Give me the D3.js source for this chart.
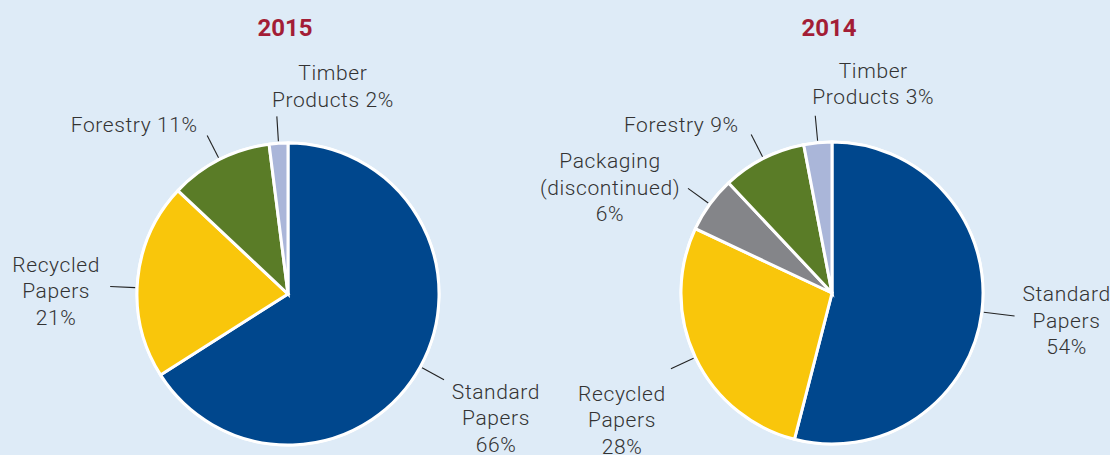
<!DOCTYPE html>
<html>
<head>
<meta charset="utf-8">
<script src="https://cdn.jsdelivr.net/npm/d3@7"></script>
<style>
  html, body { margin: 0; padding: 0; background: #deebf7; }
  svg { display: block; }
  .lbl { font-family: Roboto, "Liberation Sans", sans-serif; font-weight: 300; font-size: 21px; fill: #333; letter-spacing: 0.6px; }
  .ttl { font-family: Roboto, "Liberation Sans", sans-serif; font-weight: 700; font-size: 24px; fill: #a31d36; }
</style>
</head>
<body>
<svg id="chart" width="1110" height="455"></svg>
<script>
// ---- data ----
const years = ["2015", "2014"];
const categories2015 = ["Standard Papers", "Recycled Papers", "Forestry", "Timber Products"];
const values2015 = [66, 21, 11, 2];
const labels2015 = [["Standard", "Papers", "66%"], ["Recycled", "Papers", "21%"], ["Forestry 11%"], ["Timber", "Products 2%"]];
const categories2014 = ["Standard Papers", "Recycled Papers", "Packaging (discontinued)", "Forestry", "Timber Products"];
const values2014 = [54, 28, 6, 9, 3];
const labels2014 = [["Standard", "Papers", "54%"], ["Recycled", "Papers", "28%"], ["Packaging", "(discontinued)", "6%"], ["Forestry 9%"], ["Timber", "Products 3%"]];

// ---- styling / layout ----
const colorScale = d3.scaleOrdinal()
  .domain(["Standard Papers", "Recycled Papers", "Packaging (discontinued)", "Forestry", "Timber Products"])
  .range(["#00478d", "#f9c60b", "#848589", "#5a7c27", "#aab6d9"]);

const pies = [
  { cx: 288, cy: 294, r: 151, cats: categories2015, vals: values2015, labels: labels2015, title: years[0],
    // text offsets (dx, dy of first baseline) relative to leader end; leader length beyond radius; angle nudge (deg)
    offsets: [[52, 19, 27, 0], [-54, -15, 27, -3], [-73, -3, 27, 0], [56, -36, 27, 0]] },
  { cx: 832, cy: 293, r: 151, cats: categories2014, vals: values2014, labels: labels2014, title: years[1],
    offsets: [[52, -15, 33, 0], [-49, 32, 27, 0], [-78, -20, 27, 0], [-70, -2, 27, 0], [58, -38, 27, 0]] }
];
const lineH = 26.5;

const svg = d3.select("#chart");

pies.forEach(p => {
  const g = svg.append("g").attr("transform", `translate(${p.cx},${p.cy})`);
  const data = p.cats.map((c, i) => ({ cat: c, value: p.vals[i], label: p.labels[i], off: p.offsets[i] }));
  const arcs = d3.pie().sort(null).value(d => d.value)(data);
  const arc = d3.arc().innerRadius(0).outerRadius(p.r);

  g.append("circle").attr("r", p.r + 1.5).attr("fill", "#fff");

  g.selectAll("path.slice").data(arcs).join("path")
    .attr("class", "slice")
    .attr("d", arc)
    .attr("fill", d => colorScale(d.data.cat))
    .attr("stroke", "#fff")
    .attr("stroke-width", 3)
    .attr("stroke-linejoin", "miter");

  arcs.forEach(a => {
    const mid = (a.startAngle + a.endAngle) / 2 + a.data.off[3] * Math.PI / 180;
    const r1 = p.r + 2, r2 = p.r + a.data.off[2];
    const x1 = Math.sin(mid) * r1, y1 = -Math.cos(mid) * r1;
    const x2 = Math.sin(mid) * r2, y2 = -Math.cos(mid) * r2;
    g.append("line")
      .attr("x1", x1).attr("y1", y1).attr("x2", x2).attr("y2", y2)
      .attr("stroke", "#222").attr("stroke-width", 1.1);
    const tx = x2 + a.data.off[0], ty = y2 + a.data.off[1];
    const t = g.append("text").attr("class", "lbl").attr("text-anchor", "middle");
    a.data.label.forEach((line, i) => {
      t.append("tspan").attr("x", tx).attr("y", ty + i * lineH).text(line);
    });
  });

  svg.append("text").attr("class", "ttl")
    .attr("x", p.cx - 3).attr("y", 36)
    .attr("text-anchor", "middle")
    .text(p.title);
});
</script>
</body>
</html>
